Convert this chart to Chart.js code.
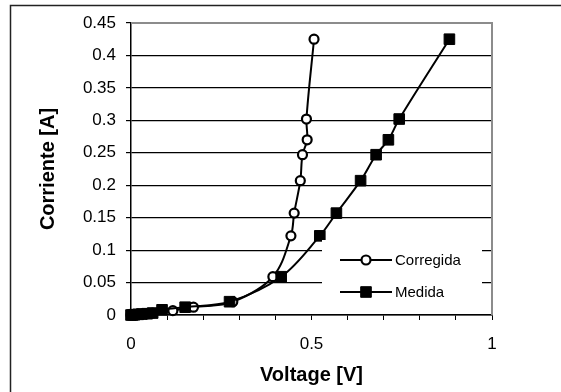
<!DOCTYPE html>
<html>
<head>
<meta charset="utf-8">
<script src="https://cdn.jsdelivr.net/npm/chart.js@4/dist/chart.umd.min.js"></script>
<style>
  html, body { margin: 0; padding: 0; background: #fff; }
  #wrap { width: 561px; height: 392px; }
</style>
</head>
<body>
<div id="wrap"><canvas id="ivChart" width="561" height="392"></canvas></div>
<script>
// ===== DATA =====
const corregidaV = [0, 0.005, 0.01, 0.02, 0.03, 0.045, 0.06, 0.116, 0.173, 0.282, 0.393, 0.443, 0.452, 0.469, 0.475, 0.488, 0.486, 0.507];
const corregidaI = [0, 0.0002, 0.0005, 0.001, 0.0015, 0.002, 0.003, 0.0067, 0.012, 0.0205, 0.059, 0.122, 0.157, 0.207, 0.247, 0.270, 0.302, 0.425];

const medidaV = [0, 0.005, 0.01, 0.02, 0.03, 0.045, 0.06, 0.086, 0.150, 0.273, 0.416, 0.523, 0.569, 0.636, 0.679, 0.713, 0.743, 0.882];
const medidaI = [0, 0.0002, 0.0005, 0.001, 0.0015, 0.002, 0.003, 0.008, 0.012, 0.0205, 0.059, 0.122, 0.157, 0.207, 0.247, 0.270, 0.302, 0.425];

const xTickLabels = [0, 0.5, 1];
const seriesNames = ["Corregida", "Medida"];

const FONT = "'Liberation Sans', Arial, sans-serif";

function toPoints(xs, ys) {
  return xs.map((x, i) => ({ x: x, y: ys[i] }));
}

// frame, plot border and legend
const decorPlugin = {
  id: "decor",
  beforeDraw(chart) {
    const ctx = chart.ctx;
    ctx.save();
    ctx.fillStyle = "#fff";
    ctx.fillRect(0, 0, chart.width, chart.height);
    ctx.strokeStyle = "#222";
    ctx.lineWidth = 1.5;
    ctx.beginPath();
    ctx.moveTo(10.5, chart.height);
    ctx.lineTo(10.5, 5.5);
    ctx.lineTo(chart.width, 5.5);
    ctx.stroke();
    ctx.restore();
  },
  beforeDatasetsDraw(chart) {
    const a = chart.chartArea;
    const ctx = chart.ctx;
    ctx.save();
    ctx.strokeStyle = "#8c8c8c";
    ctx.lineWidth = 2;
    ctx.beginPath();
    ctx.moveTo(a.left, a.top);
    ctx.lineTo(a.right, a.top);
    ctx.lineTo(a.right, a.bottom);
    ctx.stroke();
    ctx.restore();
  },
  afterDraw(chart) {
    const ctx = chart.ctx;
    ctx.save();
    ctx.fillStyle = "#fff";
    ctx.fillRect(322, 240, 160, 66);
    chart.data.datasets.forEach((ds, i) => {
      const y = 260 + i * 32;
      ctx.strokeStyle = "#000";
      ctx.lineWidth = 2;
      ctx.beginPath();
      ctx.moveTo(340, y);
      ctx.lineTo(392, y);
      ctx.stroke();
      ctx.fillStyle = ds.pointBackgroundColor;
      ctx.strokeStyle = ds.pointBorderColor;
      ctx.lineWidth = ds.pointBorderWidth;
      Chart.helpers.drawPoint(ctx, {
        pointStyle: ds.pointStyle,
        radius: ds.pointRadius,
        borderWidth: ds.pointBorderWidth
      }, 366, y);
      ctx.fillStyle = "#000";
      ctx.font = "15px " + FONT;
      ctx.textBaseline = "middle";
      ctx.textAlign = "left";
      ctx.fillText(ds.label, 395, y + 1);
    });
    ctx.restore();
  }
};

const ctx = document.getElementById("ivChart").getContext("2d");
new Chart(ctx, {
  type: "line",
  data: {
    datasets: [
      {
        label: seriesNames[0],
        data: toPoints(corregidaV, corregidaI),
        order: 1,
        borderColor: "#000",
        borderWidth: 2,
        pointStyle: "circle",
        pointRadius: 4.5,
        pointBorderWidth: 2.2,
        pointBackgroundColor: "#fff",
        pointBorderColor: "#000",
        tension: 0.35,
        clip: false
      },
      {
        label: seriesNames[1],
        data: toPoints(medidaV, medidaI),
        order: 0,
        borderColor: "#000",
        borderWidth: 2,
        pointStyle: "rect",
        pointRadius: 7.5,
        pointBorderWidth: 1,
        pointBackgroundColor: "#000",
        pointBorderColor: "#000",
        tension: 0.35,
        clip: false
      }
    ]
  },
  options: {
    responsive: false,
    animation: false,
    devicePixelRatio: 1,
    layout: { padding: { top: 23, right: 69, left: 0, bottom: 0 } },
    plugins: {
      legend: { display: false },
      tooltip: { enabled: false }
    },
    scales: {
      x: {
        type: "linear",
        min: 0,
        max: 1,
        afterFit: (scale) => { scale.height = 77; },
        ticks: {
          stepSize: 0.1,
          maxRotation: 0,
          padding: 14,
          color: "#000",
          font: { family: FONT, size: 17 },
          callback: (v) => {
            const r = Math.round(v * 10) / 10;
            return xTickLabels.includes(r) ? String(r) : "";
          }
        },
        grid: {
          drawOnChartArea: false,
          drawTicks: true,
          tickLength: 5,
          color: "#000"
        },
        border: { color: "#000", width: 1.5 },
        title: {
          display: true,
          text: "Voltage [V]",
          color: "#000",
          font: { family: FONT, size: 20, weight: "bold" },
          padding: { top: 0, bottom: 5 }
        }
      },
      y: {
        min: 0,
        max: 0.45,
        afterFit: (scale) => { scale.width = 131; },
        ticks: {
          stepSize: 0.05,
          padding: 10,
          color: "#000",
          font: { family: FONT, size: 17 },
          callback: (v) => String(Math.round(v * 100) / 100)
        },
        grid: {
          color: (c) => (c.tick && c.tick.value >= 0.449 ? "#8c8c8c" : "#000"),
          tickColor: "#000",
          tickLength: 5,
          lineWidth: 1.2
        },
        border: { color: "#000", width: 1.5 },
        title: {
          display: true,
          text: "Corriente [A]",
          color: "#000",
          font: { family: FONT, size: 20, weight: "bold" },
          padding: { top: 36, bottom: 0 }
        }
      }
    }
  },
  plugins: [decorPlugin]
});
</script>
</body>
</html>
